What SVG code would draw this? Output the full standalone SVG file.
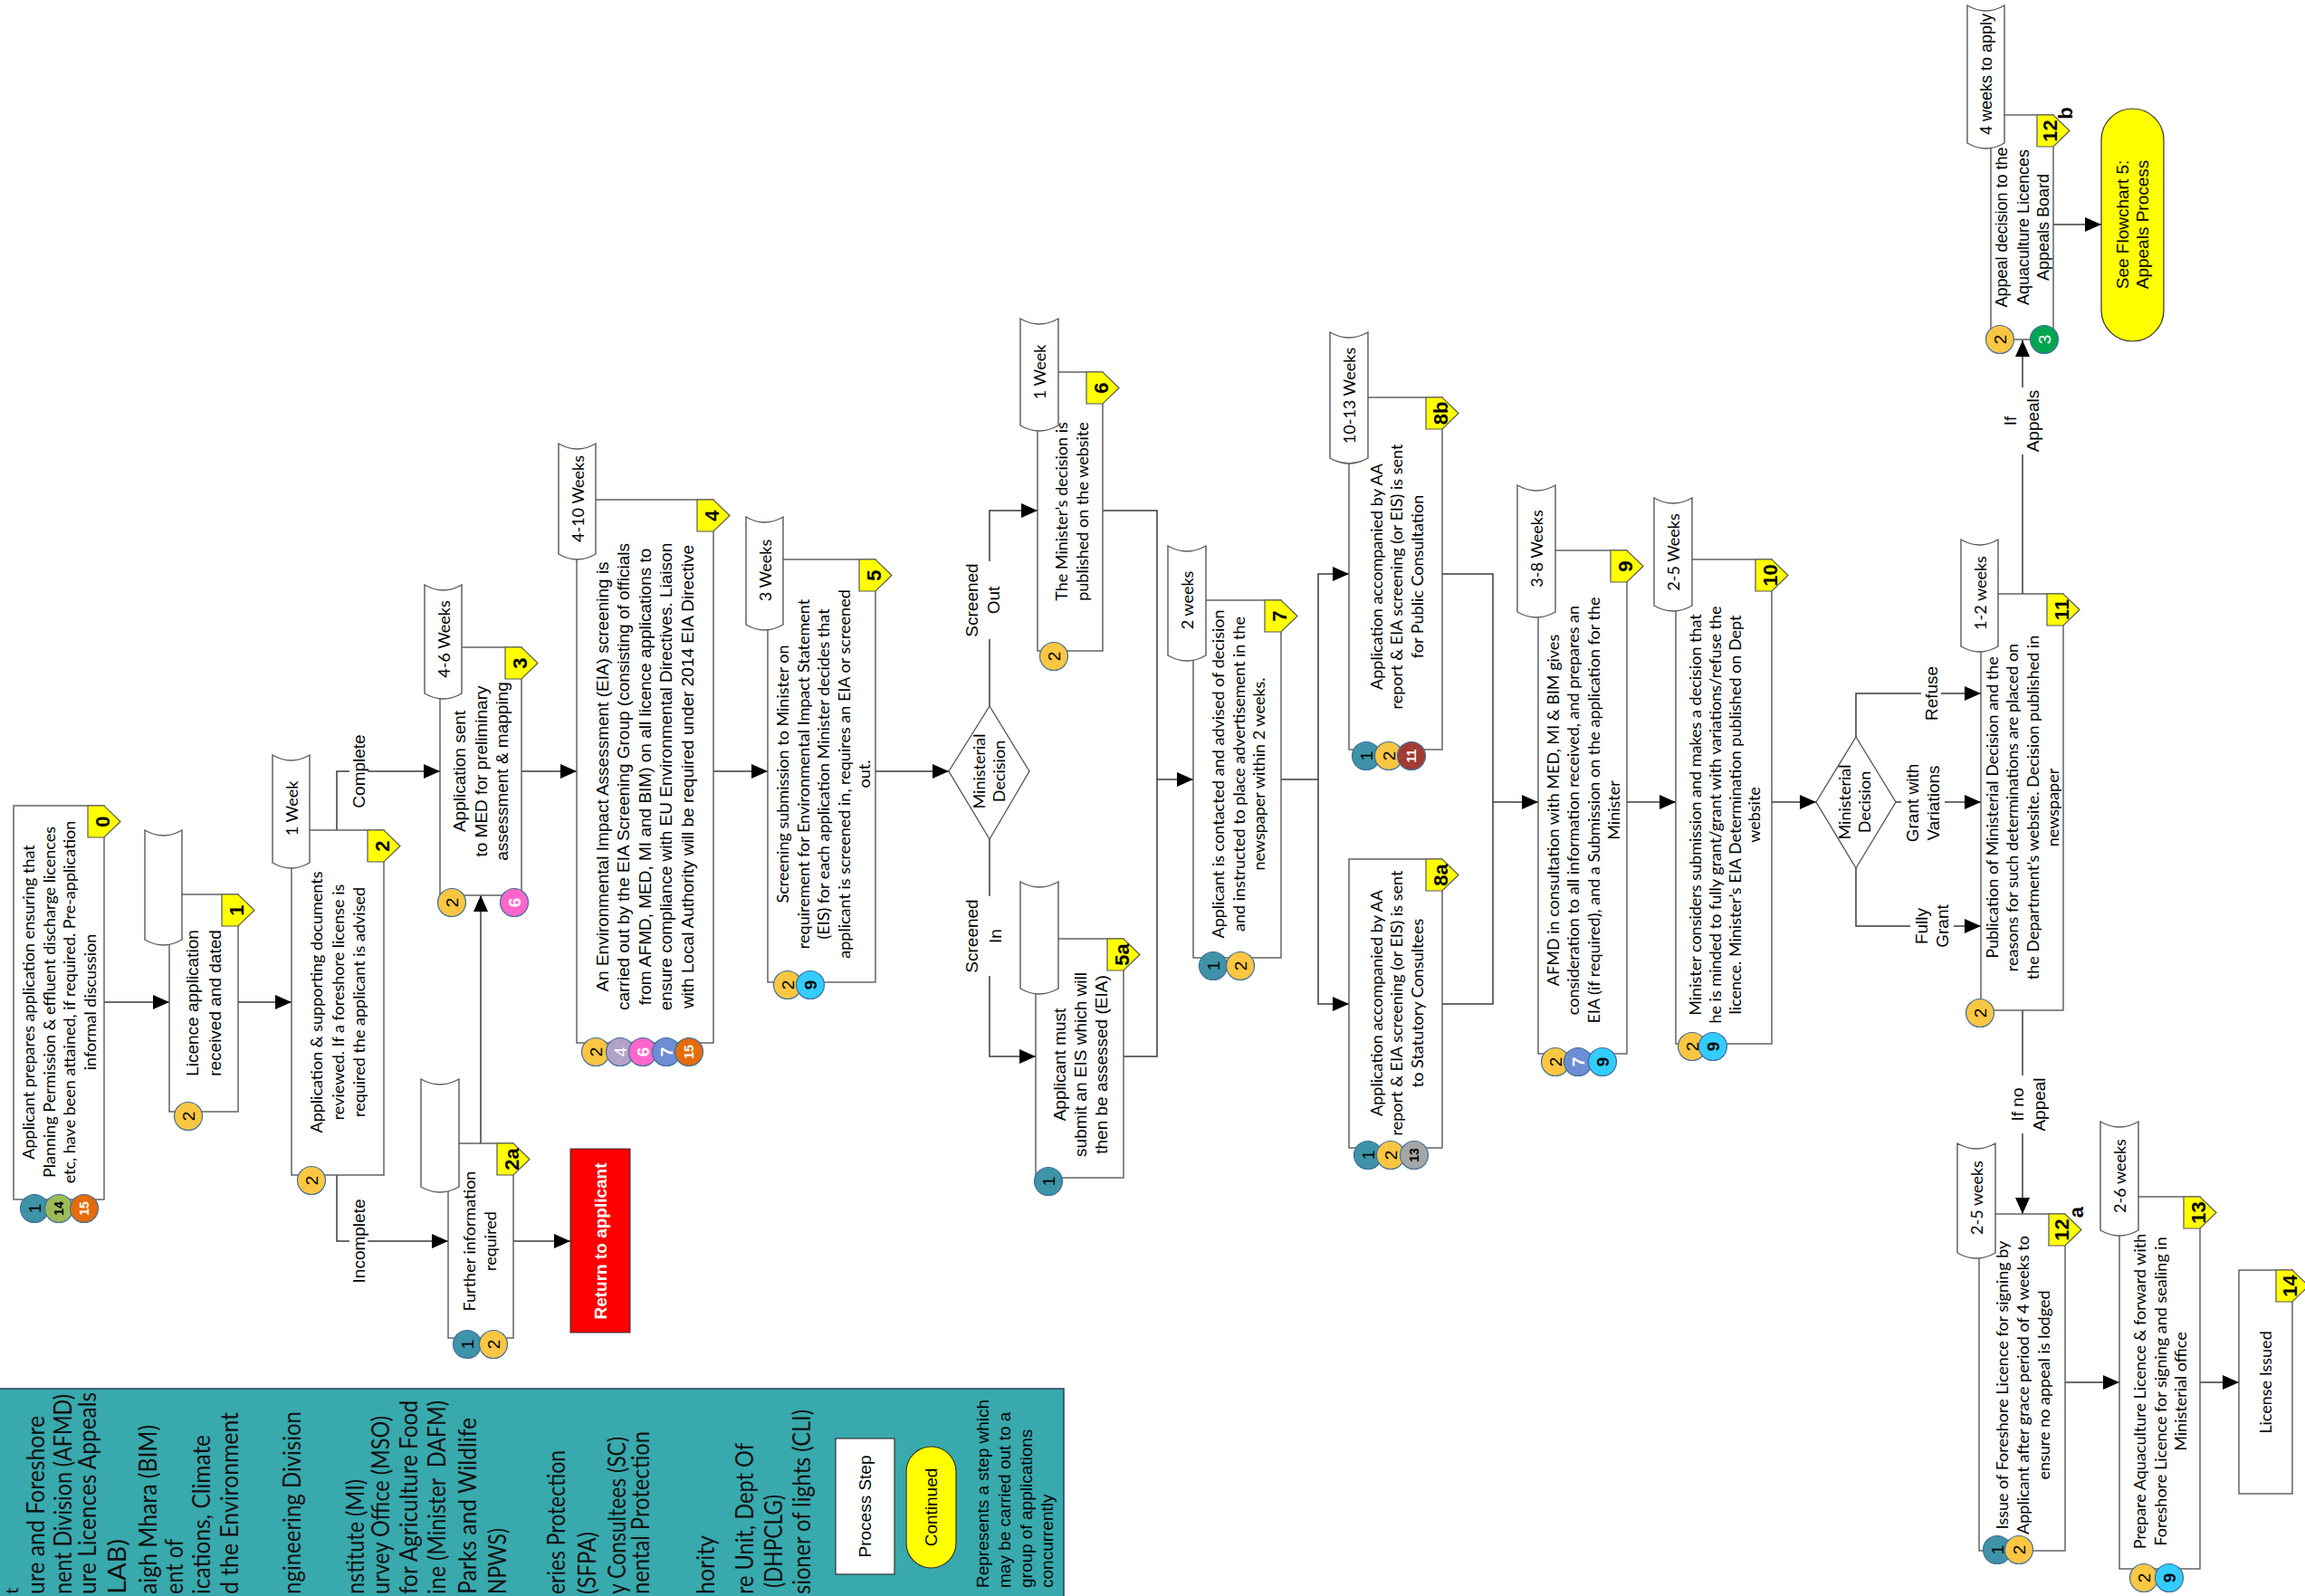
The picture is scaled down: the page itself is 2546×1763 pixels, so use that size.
<svg xmlns="http://www.w3.org/2000/svg" width="2546" height="1763" viewBox="0 0 2546 1763">
<defs>
<style>
.bx{fill:#fff;stroke:#595959;stroke-width:1.4}
.tp{fill:#fff;stroke:#595959;stroke-width:1.4}
.bd{fill:#ffff00;stroke:#595959;stroke-width:1.2}
.cn{fill:none;stroke:#3a3a3a;stroke-width:1.5}
.ci{stroke:#41719c;stroke-width:1.2}
.lb{fill:#fff}
text{text-anchor:middle;dominant-baseline:central;fill:#000}
.c{font-family:Lato,"Liberation Sans",sans-serif;font-size:18px}
.a{font-family:"Liberation Sans",Arial,sans-serif;font-size:19px}
.a18{font-family:"Liberation Sans",Arial,sans-serif;font-size:18px}
.bn{font-family:"Liberation Sans",Arial,sans-serif;font-size:22px;font-weight:bold}
.n{font-family:"Liberation Sans",Arial,sans-serif;font-size:19px}
.n2{font-family:"Liberation Sans",Arial,sans-serif;font-size:14px;font-weight:bold}
.b{font-weight:bold}
.w{fill:#fff}
.lg{font-family:Lato,"Liberation Sans",sans-serif;font-size:26px;text-anchor:start;fill:#111}
</style>
<marker id="ah" markerUnits="userSpaceOnUse" markerWidth="18" markerHeight="16" refX="18" refY="8" orient="auto"><path d="M0,0 L18,8 L0,16 Z" fill="#000"/></marker>
</defs>
<rect x="0" y="0" width="2546" height="1763" fill="#fff"/>

<g id="legend">
<rect x="-2" y="1534" width="1177" height="240" fill="#38a9ad" stroke="#1f3f5f" stroke-width="1.5"/>
<text class="lg" style="font-size:20px" transform="translate(12,1761) rotate(-90)">t</text>
<text class="lg" transform="translate(39,1761) rotate(-90)" textLength="197" lengthAdjust="spacingAndGlyphs">ure and Foreshore</text>
<text class="lg" transform="translate(69,1761) rotate(-90)" textLength="221" lengthAdjust="spacingAndGlyphs">nent Division (AFMD)</text>
<text class="lg" transform="translate(96,1761) rotate(-90)" textLength="223" lengthAdjust="spacingAndGlyphs">ure Licences Appeals</text>
<text class="lg" transform="translate(129,1761) rotate(-90)" textLength="61" lengthAdjust="spacingAndGlyphs">LAB)</text>
<text class="lg" transform="translate(163,1761) rotate(-90)" textLength="187" lengthAdjust="spacingAndGlyphs">aigh Mhara (BIM)</text>
<text class="lg" transform="translate(192,1761) rotate(-90)" textLength="61" lengthAdjust="spacingAndGlyphs">ent of</text>
<text class="lg" transform="translate(222,1761) rotate(-90)" textLength="176" lengthAdjust="spacingAndGlyphs">ications, Climate</text>
<text class="lg" transform="translate(253,1761) rotate(-90)" textLength="201" lengthAdjust="spacingAndGlyphs">d the Environment</text>
<text class="lg" transform="translate(322,1761) rotate(-90)" textLength="202" lengthAdjust="spacingAndGlyphs">ngineering Division</text>
<text class="lg" transform="translate(392,1761) rotate(-90)" textLength="127" lengthAdjust="spacingAndGlyphs">nstitute (MI)</text>
<text class="lg" transform="translate(420,1761) rotate(-90)" textLength="197" lengthAdjust="spacingAndGlyphs">urvey Office (MSO)</text>
<text class="lg" transform="translate(451,1761) rotate(-90)" textLength="214" lengthAdjust="spacingAndGlyphs">for Agriculture Food</text>
<text class="lg" transform="translate(482,1761) rotate(-90)" textLength="214" lengthAdjust="spacingAndGlyphs">ine (Minister&#160; DAFM)</text>
<text class="lg" transform="translate(516,1761) rotate(-90)" textLength="195" lengthAdjust="spacingAndGlyphs">Parks and Wildlife</text>
<text class="lg" transform="translate(549,1761) rotate(-90)" textLength="73" lengthAdjust="spacingAndGlyphs">NPWS)</text>
<text class="lg" transform="translate(614,1761) rotate(-90)" textLength="159" lengthAdjust="spacingAndGlyphs">eries Protection</text>
<text class="lg" transform="translate(648,1761) rotate(-90)" textLength="69" lengthAdjust="spacingAndGlyphs">(SFPA)</text>
<text class="lg" transform="translate(681,1761) rotate(-90)" textLength="174" lengthAdjust="spacingAndGlyphs">y Consultees (SC)</text>
<text class="lg" transform="translate(707,1761) rotate(-90)" textLength="180" lengthAdjust="spacingAndGlyphs">nental Protection</text>
<text class="lg" transform="translate(779,1761) rotate(-90)" textLength="65" lengthAdjust="spacingAndGlyphs">hority</text>
<text class="lg" transform="translate(822,1761) rotate(-90)" textLength="167" lengthAdjust="spacingAndGlyphs">re Unit, Dept Of</text>
<text class="lg" transform="translate(854,1754) rotate(-90)" textLength="103" lengthAdjust="spacingAndGlyphs">(DHPCLG)</text>
<text class="lg" transform="translate(885,1761) rotate(-90)" textLength="204" lengthAdjust="spacingAndGlyphs">sioner of lights (CLI)</text>
<rect x="923" y="1589" width="65" height="150" fill="#fff" stroke="#333" stroke-width="1.2"/>
<text class="a" transform="translate(955,1664) rotate(-90)">Process Step</text>
<rect x="1001" y="1598" width="55" height="134" rx="27.5" fill="#ffff00" stroke="#333" stroke-width="1.2"/>
<text class="a" transform="translate(1028,1665) rotate(-90)">Continued</text>
<text class="a" style="text-anchor:start" transform="translate(1085,1754) rotate(-90)">Represents a step which</text>
<text class="a" style="text-anchor:start" transform="translate(1109,1754) rotate(-90)">may be carried out to a</text>
<text class="a" style="text-anchor:start" transform="translate(1133,1754) rotate(-90)">group of applications</text>
<text class="a" style="text-anchor:start" transform="translate(1156,1754) rotate(-90)">concurrently</text>
</g>

<g id="connectors">
<path class="cn" d="M115 1107H187" marker-end="url(#ah)"/>
<path class="cn" d="M263 1107H322" marker-end="url(#ah)"/>
<path class="cn" d="M372 917V852H486" marker-end="url(#ah)"/>
<path class="cn" d="M372 1298V1371H495" marker-end="url(#ah)"/>
<path class="cn" d="M531 1263V989" marker-end="url(#ah)"/>
<path class="cn" d="M567 1371H630" marker-end="url(#ah)"/>
<path class="cn" d="M576 852H637" marker-end="url(#ah)"/>
<path class="cn" d="M788 852H848" marker-end="url(#ah)"/>
<path class="cn" d="M967 852H1048" marker-end="url(#ah)"/>
<path class="cn" d="M1093 780V564H1146" marker-end="url(#ah)"/>
<path class="cn" d="M1093 927V1167H1144" marker-end="url(#ah)"/>
<path class="cn" d="M1218 564H1278V861H1318" marker-end="url(#ah)"/>
<path class="cn" d="M1241 1167H1278V861"/>
<path class="cn" d="M1415 861H1456"/>
<path class="cn" d="M1456 861V634H1490" marker-end="url(#ah)"/>
<path class="cn" d="M1456 861V1109H1490" marker-end="url(#ah)"/>
<path class="cn" d="M1593 634H1649V886"/>
<path class="cn" d="M1593 1109H1649V886"/>
<path class="cn" d="M1649 886H1699" marker-end="url(#ah)"/>
<path class="cn" d="M1797 886H1851" marker-end="url(#ah)"/>
<path class="cn" d="M1957 886H2006" marker-end="url(#ah)"/>
<path class="cn" d="M2050 814V766H2188" marker-end="url(#ah)"/>
<path class="cn" d="M2094 886H2188" marker-end="url(#ah)"/>
<path class="cn" d="M2050 959V1023H2188" marker-end="url(#ah)"/>
<path class="cn" d="M2234 656V376" marker-end="url(#ah)"/>
<path class="cn" d="M2234 1116V1341" marker-end="url(#ah)"/>
<path class="cn" d="M2268 248H2321" marker-end="url(#ah)"/>
<path class="cn" d="M2281 1527H2341" marker-end="url(#ah)"/>
<path class="cn" d="M2430 1527H2473" marker-end="url(#ah)"/>
<rect class="lb" x="386" y="810" width="20" height="84"/>
<text class="a" transform="translate(396,852) rotate(-90)">Complete</text>
<rect class="lb" x="386" y="1321" width="20" height="100"/>
<text class="a" transform="translate(396,1371) rotate(-90)">Incomplete</text>
<rect class="lb" x="1062" y="620" width="48" height="86"/>
<text class="a" transform="translate(1073,663) rotate(-90)">Screened</text>
<text class="a" transform="translate(1097,663) rotate(-90)">Out</text>
<rect class="lb" x="1062" y="990" width="48" height="88"/>
<text class="a" transform="translate(1073,1034) rotate(-90)">Screened</text>
<text class="a" transform="translate(1099,1034) rotate(-90)">In</text>
<rect class="lb" x="2122" y="735" width="22" height="62"/>
<text class="a" transform="translate(2133,766) rotate(-90)">Refuse</text>
<rect class="lb" x="2100" y="842" width="48" height="90"/>
<text class="a" transform="translate(2112,887) rotate(-90)">Grant with</text>
<text class="a" transform="translate(2135,887) rotate(-90)">Variations</text>
<rect class="lb" x="2110" y="998" width="48" height="52"/>
<text class="a" transform="translate(2122,1023) rotate(-90)">Fully</text>
<text class="a" transform="translate(2145,1023) rotate(-90)">Grant</text>
<rect class="lb" x="2208" y="428" width="50" height="74"/>
<text class="a" transform="translate(2220,465) rotate(-90)">If</text>
<text class="a" transform="translate(2245,465) rotate(-90)">Appeals</text>
<rect class="lb" x="2215" y="1188" width="50" height="64"/>
<text class="a" transform="translate(2228,1220) rotate(-90)">If no</text>
<text class="a" transform="translate(2252,1220) rotate(-90)">Appeal</text>
</g>

<g id="step0">
<rect class="bx" x="15" y="890" width="100" height="435"/>
<path class="bd" d="M97 890H115L133 907.5L115 925H97Z"/>
<text class="bn" transform="translate(113,907.5) rotate(-90)">0</text>
<text class="c" transform="translate(31,1107) rotate(-90)">Applicant prepares application ensuring that</text>
<text class="c" transform="translate(53.5,1107) rotate(-90)">Planning Permission &amp; effluent discharge licences</text>
<text class="c" transform="translate(76,1107) rotate(-90)">etc, have been attained, if required. Pre-application</text>
<text class="c" transform="translate(99,1107) rotate(-90)">informal discussion</text>
<circle class="ci" cx="38" cy="1335" r="15.5" fill="#3e93a8"/><text class="n" transform="translate(38,1335) rotate(-90)">1</text>
<circle class="ci" cx="65" cy="1335" r="15.5" fill="#9bbb59"/><text class="n2" transform="translate(65,1335) rotate(-90)">14</text>
<circle class="ci" cx="93" cy="1335" r="15.5" fill="#e46c0a"/><text class="n2 w" transform="translate(93,1335) rotate(-90)">15</text>
</g>

<g id="step1">
<rect class="bx" x="187" y="988" width="76" height="240"/>
<path class="tp" d="M160 917Q180.5 929 201 917V1038Q180.5 1050 160 1038Z"/>
<path class="bd" d="M245 988H263L281 1005.5L263 1023H245Z"/>
<text class="bn" transform="translate(261,1005.5) rotate(-90)">1</text>
<text class="a" transform="translate(212,1108) rotate(-90)">Licence application</text>
<text class="a" transform="translate(237,1108) rotate(-90)">received and dated</text>
<circle class="ci" cx="208" cy="1233" r="15.5" fill="#fbc641"/><text class="n" transform="translate(208,1233) rotate(-90)">2</text>
</g>

<g id="step2">
<rect class="bx" x="322" y="917" width="102" height="381"/>
<path class="tp" d="M301 834Q321.5 846 342 834V953Q321.5 965 301 953Z"/>
<text class="c" transform="translate(321.5,893) rotate(-90)">1 Week</text>
<path class="bd" d="M406 917H424L442 934.5L424 952H406Z"/>
<text class="bn" transform="translate(422,934.5) rotate(-90)">2</text>
<text class="c" transform="translate(349,1107) rotate(-90)">Application &amp; supporting documents</text>
<text class="c" transform="translate(372.5,1107) rotate(-90)">reviewed. If a foreshore license is</text>
<text class="c" transform="translate(396,1107) rotate(-90)">required the applicant is advised</text>
<circle class="ci" cx="344" cy="1304" r="15.5" fill="#fbc641"/><text class="n" transform="translate(344,1304) rotate(-90)">2</text>
</g>

<g id="step2a">
<rect class="bx" x="495" y="1263" width="72" height="215"/>
<path class="tp" d="M465 1192Q486 1204 507 1192V1311Q486 1323 465 1311Z"/>
<path class="bd" d="M549 1263H567L585 1280.5L567 1298H549Z"/>
<text class="bn" transform="translate(565,1280.5) rotate(-90)">2a</text>
<text class="c" transform="translate(518,1371) rotate(-90)">Further information</text>
<text class="c" transform="translate(541,1371) rotate(-90)">required</text>
<circle class="ci" cx="516" cy="1485" r="15.5" fill="#3e93a8"/><text class="n" transform="translate(516,1485) rotate(-90)">1</text>
<circle class="ci" cx="545" cy="1485" r="15.5" fill="#fbc641"/><text class="n" transform="translate(545,1485) rotate(-90)">2</text>
</g>

<g id="return">
<rect x="630" y="1269" width="66" height="203" fill="#ff0000" stroke="#333" stroke-width="1"/>
<text class="a b w" transform="translate(663,1371) rotate(-90)">Return to applicant</text>
</g>

<g id="step3">
<rect class="bx" x="486" y="715" width="90" height="274"/>
<path class="tp" d="M469 646Q489.5 658 510 646V766Q489.5 778 469 766Z"/>
<text class="c" transform="translate(489.5,706) rotate(-90)">4-6 Weeks</text>
<path class="bd" d="M558 715H576L594 732.5L576 750H558Z"/>
<text class="bn" transform="translate(574,732.5) rotate(-90)">3</text>
<text class="a" transform="translate(507,852) rotate(-90)">Application sent</text>
<text class="a" transform="translate(531,852) rotate(-90)">to MED for preliminary</text>
<text class="a" transform="translate(554,852) rotate(-90)">assessment &amp; mapping</text>
<circle class="ci" cx="499" cy="997" r="15.5" fill="#fbc641"/><text class="n" transform="translate(499,997) rotate(-90)">2</text>
<circle class="ci" cx="568" cy="997" r="15.5" fill="#ff66cc"/><text class="n b w" transform="translate(568,997) rotate(-90)">6</text>
</g>

<g id="step4">
<rect class="bx" x="637" y="552" width="151" height="600"/>
<path class="tp" d="M617 490Q637.5 502 658 490V612Q637.5 624 617 612Z"/>
<text class="c" transform="translate(637.5,551) rotate(-90)">4-10 Weeks</text>
<path class="bd" d="M770 552H788L806 569.5L788 587H770Z"/>
<text class="bn" transform="translate(786,569.5) rotate(-90)">4</text>
<text class="a" transform="translate(665,858) rotate(-90)">An Environmental Impact Assessment (EIA) screening is</text>
<text class="a" transform="translate(688.5,858) rotate(-90)">carried out by the EIA Screening Group (consisting of officials</text>
<text class="a" transform="translate(712,858) rotate(-90)">from AFMD, MED, MI and BIM) on all licence applications to</text>
<text class="a" transform="translate(735.5,858) rotate(-90)">ensure compliance with EU Environmental Directives. Liaison</text>
<text class="a" transform="translate(759,858) rotate(-90)">with Local Authority will be required under 2014 EIA Directive</text>
<circle class="ci" cx="658" cy="1162" r="15.5" fill="#fbc641"/><text class="n" transform="translate(658,1162) rotate(-90)">2</text>
<circle class="ci" cx="685" cy="1162" r="15.5" fill="#b3a2c7"/><text class="n w" transform="translate(685,1162) rotate(-90)">4</text>
<circle class="ci" cx="710" cy="1162" r="15.5" fill="#ff66cc"/><text class="n b w" transform="translate(710,1162) rotate(-90)">6</text>
<circle class="ci" cx="736" cy="1162" r="15.5" fill="#6c8ed4"/><text class="n b w" transform="translate(736,1162) rotate(-90)">7</text>
<circle class="ci" cx="761" cy="1162" r="15.5" fill="#e46c0a"/><text class="n2 w" transform="translate(761,1162) rotate(-90)">15</text>
</g>

<g id="step5">
<rect class="bx" x="848" y="618" width="119" height="467"/>
<path class="tp" d="M824 571Q844.5 583 865 571V690Q844.5 702 824 690Z"/>
<text class="c" transform="translate(844.5,630) rotate(-90)">3 Weeks</text>
<path class="bd" d="M949 618H967L985 635.5L967 653H949Z"/>
<text class="bn" transform="translate(965,635.5) rotate(-90)">5</text>
<text class="c" transform="translate(864,855) rotate(-90)">Screening submission to Minister on</text>
<text class="c" transform="translate(886.5,855) rotate(-90)">requirement for Environmental Impact Statement</text>
<text class="c" transform="translate(909,855) rotate(-90)">(EIS) for each application Minister decides that</text>
<text class="c" transform="translate(931.5,855) rotate(-90)">applicant is screened in, requires an EIA or screened</text>
<text class="c" transform="translate(954,855) rotate(-90)">out.</text>
<circle class="ci" cx="870" cy="1088" r="15.5" fill="#fbc641"/><text class="n" transform="translate(870,1088) rotate(-90)">2</text>
<circle class="ci" cx="895" cy="1088" r="15.5" fill="#33ccff"/><text class="n b" transform="translate(895,1088) rotate(-90)">9</text>
</g>

<g id="decision1">
<polygon points="1048,852 1093,780 1137,852 1093,927" fill="#fff" stroke="#595959" stroke-width="1.4"/>
<text class="c" transform="translate(1081,852) rotate(-90)">Ministerial</text>
<text class="c" transform="translate(1103,852) rotate(-90)">Decision</text>
</g>

<g id="step5a">
<rect class="bx" x="1144" y="1037" width="97" height="264"/>
<path class="tp" d="M1127 974Q1148 986 1169 974V1092Q1148 1104 1127 1092Z"/>
<path class="bd" d="M1223 1037H1241L1259 1054.5L1241 1072H1223Z"/>
<text class="bn" transform="translate(1239,1054.5) rotate(-90)">5a</text>
<text class="a" transform="translate(1170,1176) rotate(-90)">Applicant must</text>
<text class="a" transform="translate(1193,1176) rotate(-90)">submit an EIS which will</text>
<text class="a" transform="translate(1216,1176) rotate(-90)">then be assessed (EIA)</text>
<circle class="ci" cx="1158" cy="1305" r="15.5" fill="#3e93a8"/><text class="n" transform="translate(1158,1305) rotate(-90)">1</text>
</g>

<g id="step6">
<rect class="bx" x="1146" y="411" width="72" height="308"/>
<path class="tp" d="M1127 352Q1148 364 1169 352V470Q1148 482 1127 470Z"/>
<text class="c" transform="translate(1148,411) rotate(-90)">1 Week</text>
<path class="bd" d="M1200 411H1218L1236 428.5L1218 446H1200Z"/>
<text class="bn" transform="translate(1216,428.5) rotate(-90)">6</text>
<text class="c" transform="translate(1172,565) rotate(-90)">The Minister’s decision is</text>
<text class="c" transform="translate(1195,565) rotate(-90)">published on the website</text>
<circle class="ci" cx="1164" cy="725" r="15.5" fill="#fbc641"/><text class="n" transform="translate(1164,725) rotate(-90)">2</text>
</g>

<g id="step7">
<rect class="bx" x="1318" y="663" width="97" height="395"/>
<path class="tp" d="M1290 603Q1311 615 1332 603V724Q1311 736 1290 724Z"/>
<text class="c" transform="translate(1311,663) rotate(-90)">2 weeks</text>
<path class="bd" d="M1397 663H1415L1433 680.5L1415 698H1397Z"/>
<text class="bn" transform="translate(1413,680.5) rotate(-90)">7</text>
<text class="c" transform="translate(1345,855) rotate(-90)">Applicant is contacted and advised of decision</text>
<text class="c" transform="translate(1368,855) rotate(-90)">and instructed to place advertisement in the</text>
<text class="c" transform="translate(1390,855) rotate(-90)">newspaper within 2 weeks.</text>
<circle class="ci" cx="1340" cy="1067" r="15.5" fill="#3e93a8"/><text class="n" transform="translate(1340,1067) rotate(-90)">1</text>
<circle class="ci" cx="1370" cy="1067" r="15.5" fill="#fbc641"/><text class="n" transform="translate(1370,1067) rotate(-90)">2</text>
</g>

<g id="step8b">
<rect class="bx" x="1490" y="439" width="103" height="389"/>
<path class="tp" d="M1469 367Q1490 379 1511 367V506Q1490 518 1469 506Z"/>
<text class="c" transform="translate(1490,437) rotate(-90)">10-13 Weeks</text>
<path class="bd" d="M1575 439H1593L1611 456.5L1593 474H1575Z"/>
<text class="bn" transform="translate(1591,456.5) rotate(-90)">8b</text>
<text class="c" transform="translate(1520,637) rotate(-90)">Application accompanied by AA</text>
<text class="c" transform="translate(1542,637) rotate(-90)">report &amp; EIA screening (or EIS) is sent</text>
<text class="c" transform="translate(1565,637) rotate(-90)">for Public Consultation</text>
<circle class="ci" cx="1509" cy="835" r="15.5" fill="#3e93a8"/><text class="n" transform="translate(1509,835) rotate(-90)">1</text>
<circle class="ci" cx="1534" cy="835" r="15.5" fill="#fbc641"/><text class="n" transform="translate(1534,835) rotate(-90)">2</text>
<circle class="ci" cx="1559" cy="835" r="15.5" fill="#a23b35"/><text class="n2 w" transform="translate(1559,835) rotate(-90)">11</text>
</g>

<g id="step8a">
<rect class="bx" x="1490" y="949" width="103" height="319"/>
<path class="bd" d="M1575 949H1593L1611 966.5L1593 984H1575Z"/>
<text class="bn" transform="translate(1591,966.5) rotate(-90)">8a</text>
<text class="c" transform="translate(1520,1108) rotate(-90)">Application accompanied by AA</text>
<text class="c" transform="translate(1542,1108) rotate(-90)">report &amp; EIA screening (or EIS) is sent</text>
<text class="c" transform="translate(1565,1108) rotate(-90)">to Statutory Consultees</text>
<circle class="ci" cx="1511" cy="1276" r="15.5" fill="#3e93a8"/><text class="n" transform="translate(1511,1276) rotate(-90)">1</text>
<circle class="ci" cx="1536" cy="1276" r="15.5" fill="#fbc641"/><text class="n" transform="translate(1536,1276) rotate(-90)">2</text>
<circle class="ci" cx="1562" cy="1276" r="15.5" fill="#a6a6a6"/><text class="n2" transform="translate(1562,1276) rotate(-90)">13</text>
</g>

<g id="step9">
<rect class="bx" x="1699" y="608" width="98" height="556"/>
<path class="tp" d="M1676 536Q1697 548 1718 536V676Q1697 688 1676 676Z"/>
<text class="c" transform="translate(1697,606) rotate(-90)">3-8 Weeks</text>
<path class="bd" d="M1779 608H1797L1815 625.5L1797 643H1779Z"/>
<text class="bn" transform="translate(1795,625.5) rotate(-90)">9</text>
<text class="c" transform="translate(1715,895) rotate(-90)">AFMD in consultation with MED, MI &amp; BIM gives</text>
<text class="c" transform="translate(1737,895) rotate(-90)">consideration to all information received, and prepares an</text>
<text class="c" transform="translate(1760,895) rotate(-90)">EIA (if required), and a Submission on the application for the</text>
<text class="c" transform="translate(1782,895) rotate(-90)">Minister</text>
<circle class="ci" cx="1718" cy="1173" r="15.5" fill="#fbc641"/><text class="n" transform="translate(1718,1173) rotate(-90)">2</text>
<circle class="ci" cx="1743" cy="1173" r="15.5" fill="#6c8ed4"/><text class="n b w" transform="translate(1743,1173) rotate(-90)">7</text>
<circle class="ci" cx="1770" cy="1173" r="15.5" fill="#33ccff"/><text class="n b" transform="translate(1770,1173) rotate(-90)">9</text>
</g>

<g id="step10">
<rect class="bx" x="1851" y="618" width="106" height="535"/>
<path class="tp" d="M1827 550Q1848 562 1869 550V669Q1848 681 1827 669Z"/>
<text class="c" transform="translate(1848,610) rotate(-90)">2-5 Weeks</text>
<path class="bd" d="M1939 618H1957L1975 635.5L1957 653H1939Z"/>
<text class="bn" transform="translate(1955,635.5) rotate(-90)">10</text>
<text class="c" transform="translate(1872,900) rotate(-90)">Minister considers submission and makes a decision that</text>
<text class="c" transform="translate(1894,900) rotate(-90)">he is minded to fully grant/grant with variations/refuse the</text>
<text class="c" transform="translate(1916,900) rotate(-90)">licence. Minister’s EIA Determination published on Dept</text>
<text class="c" transform="translate(1937,900) rotate(-90)">website</text>
<circle class="ci" cx="1869" cy="1156" r="15.5" fill="#fbc641"/><text class="n" transform="translate(1869,1156) rotate(-90)">2</text>
<circle class="ci" cx="1892" cy="1156" r="15.5" fill="#33ccff"/><text class="n b" transform="translate(1892,1156) rotate(-90)">9</text>
</g>

<g id="decision2">
<polygon points="2006,886 2050,814 2094,886 2050,959" fill="#fff" stroke="#595959" stroke-width="1.4"/>
<text class="c" transform="translate(2037,886) rotate(-90)">Ministerial</text>
<text class="c" transform="translate(2059,886) rotate(-90)">Decision</text>
</g>

<g id="step11">
<rect class="bx" x="2188" y="656" width="91" height="460"/>
<path class="tp" d="M2166 596Q2186.5 608 2207 596V714Q2186.5 726 2166 714Z"/>
<text class="c" transform="translate(2186.5,655) rotate(-90)">1-2 weeks</text>
<path class="bd" d="M2261 656H2279L2297 673.5L2279 691H2261Z"/>
<text class="bn" transform="translate(2277,673.5) rotate(-90)">11</text>
<text class="c" transform="translate(2200,892) rotate(-90)">Publication of Ministerial Decision and the</text>
<text class="c" transform="translate(2222,892) rotate(-90)">reasons for such determinations are placed on</text>
<text class="c" transform="translate(2245,892) rotate(-90)">the Department’s website. Decision published in</text>
<text class="c" transform="translate(2267,892) rotate(-90)">newspaper</text>
<circle class="ci" cx="2187" cy="1119" r="15.5" fill="#fbc641"/><text class="n" transform="translate(2187,1119) rotate(-90)">2</text>
</g>

<g id="step12b">
<rect class="bx" x="2199" y="127" width="69" height="248"/>
<path class="tp" d="M2173 6Q2193.5 18 2214 6V158Q2193.5 170 2173 158Z"/>
<text class="a18" transform="translate(2193.5,82) rotate(-90)">4 weeks to apply</text>
<path class="bd" d="M2250 127H2268L2286 144.5L2268 162H2250Z"/>
<text class="bn" transform="translate(2264,144.5) rotate(-90)">12</text>
<text class="bn" transform="translate(2281,125) rotate(-90)">b</text>
<text class="a18" transform="translate(2211,251) rotate(-90)">Appeal decision to the</text>
<text class="a18" transform="translate(2235,251) rotate(-90)">Aquaculture Licences</text>
<text class="a18" transform="translate(2257,251) rotate(-90)">Appeals Board</text>
<circle class="ci" cx="2209" cy="375" r="15.5" fill="#fbc641"/><text class="n" transform="translate(2209,375) rotate(-90)">2</text>
<circle class="ci" cx="2258" cy="375" r="15.5" fill="#00a550"/><text class="n w" transform="translate(2258,375) rotate(-90)">3</text>
</g>

<g id="flowchart5">
<rect x="2321" y="120" width="69" height="257" rx="34.5" fill="#ffff00" stroke="#333" stroke-width="1.2"/>
<text class="a" transform="translate(2344,248) rotate(-90)">See Flowchart 5:</text>
<text class="a" transform="translate(2366,248) rotate(-90)">Appeals Process</text>
</g>

<g id="step12a">
<rect class="bx" x="2186" y="1341" width="95" height="372"/>
<path class="tp" d="M2162 1263Q2183 1275 2204 1263V1384Q2183 1396 2162 1384Z"/>
<text class="c" transform="translate(2183,1323) rotate(-90)">2-5 weeks</text>
<path class="bd" d="M2263 1341H2281L2299 1358.5L2281 1376H2263Z"/>
<text class="bn" transform="translate(2277,1358.5) rotate(-90)">12</text>
<text class="bn" transform="translate(2293,1339) rotate(-90)">a</text>
<text class="c" transform="translate(2211,1530) rotate(-90)">Issue of Foreshore Licence for signing by</text>
<text class="c" transform="translate(2234,1530) rotate(-90)">Applicant after grace period of 4 weeks to</text>
<text class="c" transform="translate(2257,1530) rotate(-90)">ensure no appeal is lodged</text>
<circle class="ci" cx="2206" cy="1712" r="15.5" fill="#3e93a8"/><text class="n" transform="translate(2206,1712) rotate(-90)">1</text>
<circle class="ci" cx="2230" cy="1712" r="15.5" fill="#fbc641"/><text class="n" transform="translate(2230,1712) rotate(-90)">2</text>
</g>

<g id="step13">
<rect class="bx" x="2341" y="1322" width="89" height="411"/>
<path class="tp" d="M2320 1239Q2341 1251 2362 1239V1359Q2341 1371 2320 1359Z"/>
<text class="c" transform="translate(2341,1299) rotate(-90)">2-6 weeks</text>
<path class="bd" d="M2412 1322H2430L2448 1339.5L2430 1357H2412Z"/>
<text class="bn" transform="translate(2428,1339.5) rotate(-90)">13</text>
<text class="c" transform="translate(2363,1537) rotate(-90)">Prepare Aquaculture Licence &amp; forward with</text>
<text class="c" transform="translate(2386,1537) rotate(-90)">Foreshore Licence for signing and sealing in</text>
<text class="c" transform="translate(2408,1537) rotate(-90)">Ministerial office</text>
<circle class="ci" cx="2368" cy="1743" r="15.5" fill="#fbc641"/><text class="n" transform="translate(2368,1743) rotate(-90)">2</text>
<circle class="ci" cx="2396" cy="1743" r="15.5" fill="#33ccff"/><text class="n b" transform="translate(2396,1743) rotate(-90)">9</text>
</g>

<g id="step14">
<rect class="bx" x="2473" y="1403" width="59" height="247"/>
<path class="bd" d="M2514 1403H2532L2550 1420.5L2532 1438H2514Z"/>
<text class="bn" transform="translate(2529,1420.5) rotate(-90)">14</text>
<text class="c" transform="translate(2502,1527) rotate(-90)">License Issued</text>
</g>
</svg>
